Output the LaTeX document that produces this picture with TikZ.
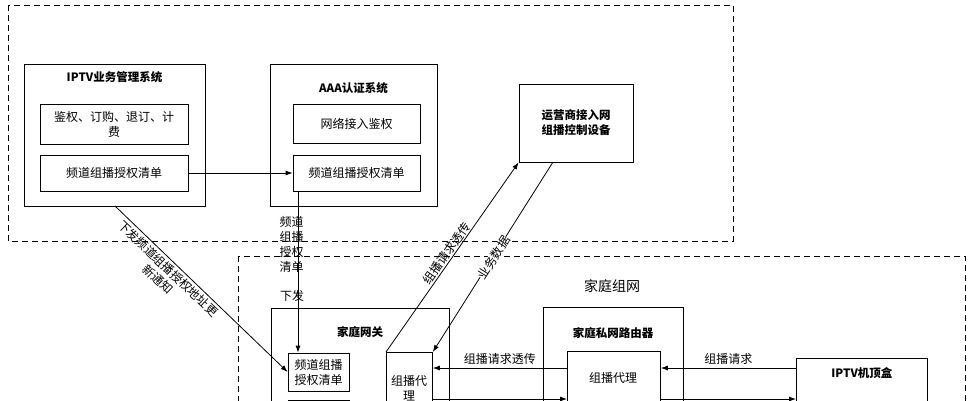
\documentclass[tikz,border=0pt]{standalone}
\usepackage{fontspec}
\setmainfont{Noto Sans CJK SC}
\usetikzlibrary{arrows.meta}
\tikzstyle{outerBox}=[draw, thick, dash pattern=on 6pt off 4pt]
\tikzstyle{sysBox}=[draw, thick, inner sep = 0pt]
\tikzstyle{subBox}=[draw, thick, inner sep = 0pt, font=\fontsize{12}{15}\selectfont, align=center]
\tikzstyle{titleText}=[font=\fontsize{11.5}{15}\selectfont\bfseries, align=center]
\tikzstyle{plainText}=[font=\fontsize{12}{15}\selectfont, align=center]
\tikzstyle{arrowLine}=[draw, thick, -{Latex[length=7pt, width=5pt]}]
\begin{document}
\begin{tikzpicture}[x=1pt, y=-1pt]
\useasboundingbox (0,0) rectangle (969,400);
\clip (0,0) rectangle (969,400);
\fill[white] (0,0) rectangle (969,400);
% dashed regions
\draw[outerBox] (8,5) rectangle (733,241);
\draw[outerBox] (238,256) rectangle (965,430);
\node[plainText, font=\fontsize{14}{16}\selectfont] (homeNet) at (612,286) {家庭组网};
% IPTV management system
\node[sysBox, minimum width = 181pt, minimum height = 142pt] (iptvSys) at (114.5,135) {};
\node[titleText] (iptvTitle) at (114.5,77) {IPTV业务管理系统};
\node[subBox, minimum width = 148pt, minimum height = 40pt] (billing) at (114,124) {鉴权、订购、退订、计\\费};
\node[subBox, minimum width = 148pt, minimum height = 36pt] (iptvList) at (114,173) {频道组播授权清单};
% AAA
\node[sysBox, minimum width = 167pt, minimum height = 142pt] (aaaSys) at (353.5,135) {};
\node[titleText] (aaaTitle) at (353.5,88) {AAA认证系统};
\node[subBox, minimum width = 127pt, minimum height = 39pt] (netAuth) at (356.5,123.5) {网络接入鉴权};
\node[subBox, minimum width = 127pt, minimum height = 36pt] (aaaList) at (356.5,173) {频道组播授权清单};
% operator device
\node[sysBox, titleText, minimum width = 114pt, minimum height = 78pt] (opDev) at (576,123) {运营商接入网\\组播控制设备};
% home gateway
\node[sysBox, minimum width = 178pt, minimum height = 130pt] (gateway) at (360,373) {};
\node[titleText] (gwTitle) at (360,332) {家庭网关};
\node[subBox, minimum width = 61pt, minimum height = 38pt] (gwList) at (318.5,372) {频道组播\\授权清单};
\node[subBox, minimum width = 61pt, minimum height = 30pt] (gwNext) at (318.5,415) {};
\node[subBox, minimum width = 46pt, minimum height = 80pt, anchor=north west] (gwProxy) at (386,352) {};
\node[plainText, anchor=north] (gwProxyText) at (409,372) {组播代\\理};
% home router
\node[sysBox, minimum width = 140pt, minimum height = 120pt, anchor=north west] (router) at (543,307) {};
\node[titleText] (rtTitle) at (613,333) {家庭私网路由器};
\node[subBox, minimum width = 93pt, minimum height = 80pt, anchor=north west] (rtProxy) at (567,351) {};
\node[plainText] (rtProxyText) at (613,378) {组播代理};
% set top box
\node[sysBox, titleText, minimum width = 131pt, minimum height = 60pt, anchor=north west, text depth=32pt] (stb) at (796,358) {IPTV机顶盒};
% connectors
\draw[arrowLine] (iptvList.east) -- (aaaList.west);
\draw[arrowLine] (aaaList.south -| 298,0) -- (gwList.north -| 298,0);
\node[plainText, anchor=north west] (issueList) at (276,213) {频道\\组播\\授权\\清单};
\node[plainText] (issueText) at (292,296) {下发};
\draw[arrowLine] (115,206) -- (gwList.west);
\node[plainText, rotate=-43.5] (notifyText) at (163,274) {下发频道组播授权地址更\\新通知};
\draw[arrowLine] (gwProxy.north west) -- node[plainText, sloped, above, pos=0.5, inner sep=1pt] {组播请求透传} (opDev.south west);
\coordinate (opOut) at (553,162);
\draw[arrowLine] (opOut) -- node[plainText, sloped, above, pos=0.5, inner sep=0pt, yshift=-7pt, fill=white] {业务数据} (gwProxy.north east);
\draw[arrowLine] (rtProxy.west |- 0,368) -- node[plainText, above, pos=0.5] {组播请求透传} (gwProxy.east |- 0,368);
\draw[arrowLine] (stb.west |- 0,368) -- node[plainText, above, pos=0.5] {组播请求} (rtProxy.east |- 0,368);
\draw[arrowLine] (gwProxy.east |- 0,399) -- (rtProxy.west |- 0,399);
\draw[arrowLine] (rtProxy.east |- 0,399) -- (stb.west |- 0,399);
\end{tikzpicture}
\end{document}
